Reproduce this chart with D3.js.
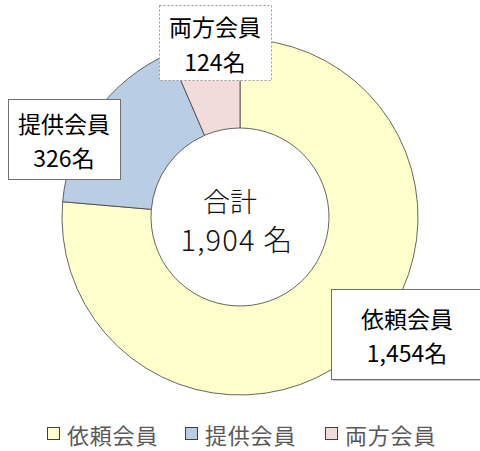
<!DOCTYPE html>
<html lang="ja">
<head>
<meta charset="UTF-8">
<title>会員構成</title>
<style>
  body { margin: 0; background: #fff; }
  svg { display: block; font-family: "Noto Sans CJK JP", "Noto Sans", sans-serif; }
</style>
</head>
<body>
<svg id="chart" width="480" height="451"></svg>
<script src="https://d3js.org/d3.v7.min.js"></script>
<script>
// データ
const categories = ['依頼会員', '提供会員', '両方会員'];
const values = [1454, 326, 124];
const colors = ['#FFFFCC', '#B9CDE5', '#F2DCDB'];
const totalLabel = '合計';
const unit = '名';

const svg = d3.select('#chart');

const cx = 240, cy = 217;
const outerR = 178, innerR = 89;

const data = categories.map((c, i) => ({ name: c, value: values[i], color: colors[i] }));

const pie = d3.pie().sort(null).value(d => d.value);
const arc = d3.arc().innerRadius(innerR).outerRadius(outerR);

const g = svg.append('g').attr('transform', `translate(${cx},${cy})`);

g.selectAll('path')
  .data(pie(data))
  .join('path')
  .attr('d', arc)
  .attr('fill', d => d.data.color)
  .attr('stroke', '#404040')
  .attr('stroke-width', 0.8);

// 中央の合計
const total = d3.sum(values);
const fmt = d3.format(',');
g.append('text')
  .attr('x', -10).attr('y', -17)
  .attr('text-anchor', 'middle').attr('dominant-baseline', 'central')
  .attr('font-size', 27).attr('font-weight', 300).attr('fill', '#111')
  .text(totalLabel);
g.append('text')
  .attr('x', -3).attr('y', 21)
  .attr('text-anchor', 'middle').attr('dominant-baseline', 'central')
  .attr('font-size', 29).attr('font-weight', 300).attr('fill', '#111')
  .attr('letter-spacing', 1.2)
  .text(`${fmt(total)} ${unit}`);

// データラベル (ボックスの位置)
const labelBoxes = [
  { x: 331, y: 289, w: 152, h: 90, dash: null },
  { x: 8, y: 99, w: 112, h: 80, dash: null },
  { x: 159, y: 5, w: 112, h: 75, dash: '2,2' }
];

const labels = svg.selectAll('g.label')
  .data(data)
  .join('g')
  .attr('class', 'label');

// 影
labels.filter((d, i) => i === 0).append('rect')
  .attr('x', labelBoxes[0].x + 2).attr('y', labelBoxes[0].y + 2)
  .attr('width', labelBoxes[0].w).attr('height', labelBoxes[0].h)
  .attr('fill', '#c8c8c8');

labels.append('rect')
  .attr('x', (d, i) => labelBoxes[i].x + 0.5)
  .attr('y', (d, i) => labelBoxes[i].y + 0.5)
  .attr('width', (d, i) => labelBoxes[i].w)
  .attr('height', (d, i) => labelBoxes[i].h)
  .attr('fill', '#fff')
  .attr('stroke', (d, i) => labelBoxes[i].dash ? '#999' : '#707070')
  .attr('stroke-width', 1)
  .attr('stroke-dasharray', (d, i) => labelBoxes[i].dash);

const labelX = (d, i) => labelBoxes[i].x + (i === 0 ? 76 : labelBoxes[i].w / 2);

labels.append('text')
  .attr('x', labelX)
  .attr('y', (d, i) => labelBoxes[i].y + labelBoxes[i].h / 2 - 16.5)
  .attr('text-anchor', 'middle').attr('dominant-baseline', 'central')
  .attr('font-size', 23).attr('fill', '#000')
  .text(d => d.name);

labels.append('text')
  .attr('x', labelX)
  .attr('y', (d, i) => labelBoxes[i].y + labelBoxes[i].h / 2 + 18)
  .attr('text-anchor', 'middle').attr('dominant-baseline', 'central')
  .attr('font-size', 23).attr('fill', '#000')
  .text(d => fmt(d.value) + unit);

// 凡例
const legendX = [47, 185, 325];
const legend = svg.selectAll('g.legend')
  .data(data)
  .join('g')
  .attr('class', 'legend')
  .attr('transform', (d, i) => `translate(${legendX[i]},434)`);

legend.append('rect')
  .attr('x', 0.5).attr('y', -6.5)
  .attr('width', 12).attr('height', 12)
  .attr('fill', d => d.color)
  .attr('stroke', '#404040').attr('stroke-width', 1);

legend.append('text')
  .attr('x', 20).attr('y', 0)
  .attr('dominant-baseline', 'central')
  .attr('font-size', 22).attr('fill', '#595959')
  .attr('letter-spacing', 0.8)
  .text(d => d.name);
</script>
</body>
</html>
